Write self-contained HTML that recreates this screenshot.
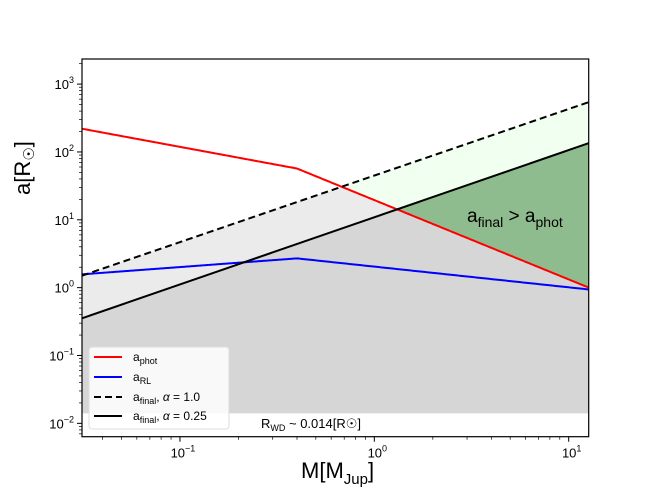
<!DOCTYPE html>
<html><head><meta charset="utf-8"><style>
body{margin:0;background:#fff}
svg{font-family:"Liberation Sans","DejaVu Sans",sans-serif}
</style></head><body>
<svg id="c" width="654" height="491" xmlns="http://www.w3.org/2000/svg">
<g id="plot"></g>
<text x="467" y="222" font-size="19">a<tspan dy="5" font-size="14">final</tspan><tspan dy="-5"> &gt; a</tspan><tspan dy="5" font-size="14">phot</tspan></text>
<text x="261" y="428" font-size="13">R<tspan dy="3" font-size="9">WD</tspan><tspan dy="-3"> ~ 0.014[R</tspan><tspan>☉</tspan>]</text>
<text x="301" y="478" font-size="22">M[M<tspan dy="6" font-size="15">Jup</tspan><tspan dy="-6">]</tspan></text>
<text transform="translate(30,195) rotate(-90)" font-size="22">a[R<tspan font-size="15" dy="4">☉</tspan><tspan dy="-4">]</tspan></text>
<g font-size="12">
<rect x="89" y="347" width="140" height="82" rx="3" fill="#fff" fill-opacity="0.85" stroke="#ddd"/>
<line x1="94" x2="122" y1="357" y2="357" stroke="#f00" stroke-width="2"/>
<text x="133" y="361">a<tspan dy="3" font-size="9">phot</tspan></text>
<line x1="94" x2="122" y1="377" y2="377" stroke="#00f" stroke-width="2"/>
<text x="133" y="381">a<tspan dy="3" font-size="9">RL</tspan></text>
<line x1="94" x2="122" y1="397" y2="397" stroke="#000" stroke-width="2" stroke-dasharray="7,4"/>
<text x="133" y="401">a<tspan dy="3" font-size="9">final</tspan><tspan dy="-3">, </tspan><tspan font-style="italic">α</tspan> = 1.0</text>
<line x1="94" x2="122" y1="416" y2="416" stroke="#000" stroke-width="2"/>
<text x="133" y="420">a<tspan dy="3" font-size="9">final</tspan><tspan dy="-3">, </tspan><tspan font-style="italic">α</tspan> = 0.25</text>
</g>
</svg>
<script>
const massKnots=[0.0313,0.4,12.7];
const aPhot=[220,57,1.0];
const aRL=[1.57,2.7,0.94];
const finalMass=[0.0313,12.7];
const aFinal1=[1.5,543];
const aFinal025=[0.353,135];
const rWD=0.014;
const xTicks=[-1,0,1];
const yTicks=[-2,-1,0,1,2,3];

const L=82,R=588.7,T=59,B=436.7,xmin=-1.504,xmax=1.103,ymin=-2.197,ymax=3.37;
const X=m=>L+(Math.log10(m)-xmin)/(xmax-xmin)*(R-L);
const Y=a=>B-(Math.log10(a)-ymin)/(ymax-ymin)*(B-T);
const NS='http://www.w3.org/2000/svg';
const svg=document.getElementById('plot');
function el(t,a,p){const e=document.createElementNS(NS,t);for(const k in a)e.setAttribute(k,a[k]);(p||svg).appendChild(e);return e;}
function interp(xs,ys,m){const lm=Math.log10(m);for(let i=0;i<xs.length-1;i++){const a=Math.log10(xs[i]),b=Math.log10(xs[i+1]);if(lm<=b||i==xs.length-2){const t=(lm-a)/(b-a);return Math.pow(10,Math.log10(ys[i])+t*(Math.log10(ys[i+1])-Math.log10(ys[i])));}}}
const N=400,ms=[];for(let i=0;i<=N;i++)ms.push(Math.pow(10,Math.log10(massKnots[0])+i/N*(Math.log10(massKnots[2])-Math.log10(massKnots[0]))));
const ph=m=>interp(massKnots,aPhot,m),f1=m=>interp(finalMass,aFinal1,m),f2=m=>interp(finalMass,aFinal025,m);
function band(lo,hi,fill,name){let pts=[],segs=[];ms.forEach(m=>{if(hi(m)>lo(m)){pts.push(m);}else if(pts.length){segs.push(pts);pts=[];}});if(pts.length)segs.push(pts);
segs.forEach(s=>{const d=s.map(m=>X(m)+','+Y(hi(m))).concat(s.slice().reverse().map(m=>X(m)+','+Y(lo(m))));const p=el('polygon',{points:d.join(' '),fill:fill});

});}
band(()=>rWD,f2,'#d6d6d6','gray-region');
band(f2,m=>Math.min(f1(m),ph(m)),'#ebebeb','light-gray-region');
band(m=>Math.max(ph(m),f2(m)),f1,'#f0fff0','light-green-region');
band(ph,f2,'#8fbc8f','green-region');
function line(xs,ys,color,dash,name){const pts=[];ms.forEach(m=>pts.push(X(m)+','+Y(interp(xs,ys,m))));const p=el('polyline',{points:pts.join(' '),fill:'none',stroke:color,'stroke-width':2});if(dash)p.setAttribute('stroke-dasharray',dash);

}
line(massKnots,aPhot,'#ff0000',null,'a-phot-line');
line(massKnots,aRL,'#0000ff',null,'a-rl-line');
line(finalMass,aFinal1,'#000',"7,4",'a-final-alpha1-line');
line(finalMass,aFinal025,'#000',null,'a-final-alpha025-line');
el('rect',{x:L,y:T,width:R-L,height:B-T,fill:'none',stroke:'#000','stroke-width':1.2});
for(let d=-2;d<=2;d++)for(let k=1;k<10;k++){const m=k*Math.pow(10,d),x=X(m);if(x<L||x>R)continue;el('line',{x1:x,x2:x,y1:B,y2:B+(k==1?5:3),stroke:'#000','stroke-width':k==1?1:0.7});}
for(let d=-3;d<=3;d++)for(let k=1;k<10;k++){const a=k*Math.pow(10,d),y=Y(a);if(y<T||y>B)continue;el('line',{x1:L,x2:L-(k==1?5:3),y1:y,y2:y,stroke:'#000','stroke-width':k==1?1:0.7});}
function pow10(x,y,e,anchor,name){const t=el('text',{x:x,y:y,'font-size':13,'text-anchor':anchor});t.innerHTML='10<tspan dy="-6" font-size="9">'+e+'</tspan>';

}
xTicks.forEach(e=>pow10(X(Math.pow(10,e))+3,B+21,(e<0?'−':'')+Math.abs(e),'middle','x-tick-label'));
yTicks.forEach(e=>{const y=Y(Math.pow(10,e));if(y>=T&&y<=B)pow10(L-8,y+5,(e<0?'−':'')+Math.abs(e),'end','y-tick-label');});
</script>
</body></html>
